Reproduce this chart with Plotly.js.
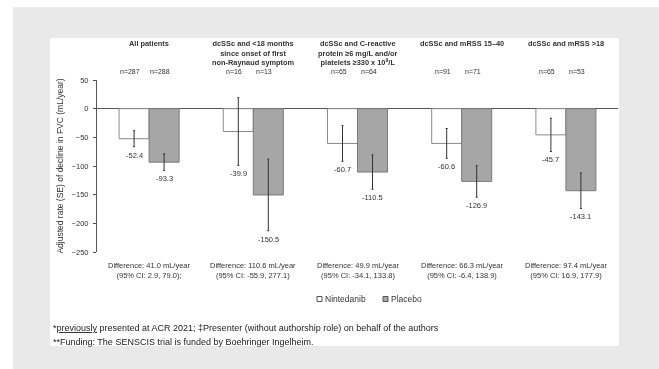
<!DOCTYPE html>
<html>
<head>
<meta charset="utf-8">
<script src="https://cdn.plot.ly/plotly-3.0.1.min.js"></script>
<style>
html,body{margin:0;padding:0;background:#ffffff;}
#chart{width:659px;height:369px;will-change:transform;}
</style>
</head>
<body>
<div id="chart"></div>
<script>
// ---- data ----
const categories = ["All patients", "<18 months", "CRP/platelets", "mRSS 15-40", "mRSS >18"];
const groupTitles = [
  "All patients",
  "dcSSc and <18 months<br>since onset of first<br>non-Raynaud symptom",
  "dcSSc and C-reactive<br>protein ≥6 mg/L and/or<br>platelets ≥330 x 10<sup>9</sup>/L",
  "dcSSc and mRSS 15–40",
  "dcSSc and mRSS >18"
];
const seriesNames = ["Nintedanib", "Placebo"];
const nintedanib = [-52.4, -39.9, -60.7, -60.6, -45.7];
const placebo = [-93.3, -150.5, -110.5, -126.9, -143.1];
const nintedanibSE = [14, 59, 31, 26, 29];
const placeboSE = [14.5, 62.5, 30, 27.5, 31];
const nNintedanib = ["n=287", "n=16", "n=65", "n=91", "n=65"];
const nPlacebo = ["n=288", "n=13", "n=64", "n=71", "n=53"];
const diffText = ["Difference: 41.0 mL/year", "Difference: 110.6 mL/year", "Difference: 49.9 mL/year", "Difference: 66.3 mL/year", "Difference: 97.4 mL/year"];
const ciText = ["(95% CI: 2.9, 79.0);", "(95% CI: -55.9, 277.1)", "(95% CI: -34.1, 133.8)", "(95% CI: -6.4, 138.9)", "(95% CI: 16.9, 177.9)"];
const yTicks = [50, 0, -50, -100, -150, -200, -250];
const footnotes = [
  "*<u>previously</u> presented at ACR 2021; ‡Presenter (without authorship role) on behalf of the authors",
  "**Funding: The SENSCIS trial is funded by Boehringer Ingelheim."
];

// ---- layout geometry (pixels) ----
const W = 659, H = 369;
const L = 97, R = 41, T = 80, B = 117;
const pw = W - L - R, ph = H - T - B;
const px = x => (x - L) / pw;
const py = y => (H - B - y) / ph;

const FONT = "Liberation Sans, Arial, sans-serif";
const TXT = "#333333";
const fills = ["#ffffff", "#a6a6a6"];
const edges = ["#8a8a8a", "#7a7a7a"];

const traces = [
  {
    type: "bar", name: seriesNames[0], x: categories, y: nintedanib,
    marker: {color: fills[0], line: {color: edges[0], width: 1}},
    error_y: {type: "data", array: nintedanibSE, visible: true, color: "#333333", thickness: 1, width: 1},
    hoverinfo: "y"
  },
  {
    type: "bar", name: seriesNames[1], x: categories, y: placebo,
    marker: {color: fills[1], line: {color: edges[1], width: 1}},
    error_y: {type: "data", array: placeboSE, visible: true, color: "#333333", thickness: 1, width: 1},
    hoverinfo: "y"
  }
];

const ann = [];
const halfBar = 15;
const f7 = {family: FONT, size: 7, color: TXT};
const f75 = {family: FONT, size: 7.5, color: TXT};
categories.forEach((c, i) => {
  ann.push({x: c, xref: "x", xanchor: "center", y: py(37), yref: "paper", yanchor: "top", showarrow: false,
    text: "<b>" + groupTitles[i] + "</b>", font: {family: FONT, size: 7.4, color: TXT}});
  ann.push({x: c, xref: "x", xanchor: "center", xshift: -halfBar - 4, y: py(72), yref: "paper", yanchor: "middle",
    showarrow: false, text: nNintedanib[i], font: f7});
  ann.push({x: c, xref: "x", xanchor: "center", xshift: halfBar - 4, y: py(72), yref: "paper", yanchor: "middle",
    showarrow: false, text: nPlacebo[i], font: f7});
  ann.push({x: c, xref: "x", xanchor: "center", xshift: -halfBar, y: nintedanib[i] - nintedanibSE[i], yref: "y",
    yanchor: "top", yshift: -2, showarrow: false, text: nintedanib[i].toFixed(1), font: f75});
  ann.push({x: c, xref: "x", xanchor: "center", xshift: halfBar, y: placebo[i] - placeboSE[i], yref: "y",
    yanchor: "top", yshift: -2, showarrow: false, text: placebo[i].toFixed(1), font: f75});
  ann.push({x: c, xref: "x", xanchor: "center", y: py(270), yref: "paper", yanchor: "middle", showarrow: false,
    text: diffText[i] + "<br>" + ciText[i], font: f75});
});
footnotes.forEach((f, i) => {
  ann.push({x: px(51), xref: "paper", xanchor: "left", y: py(328 + i * 14), yref: "paper", yanchor: "middle",
    showarrow: false, text: f, font: {family: FONT, size: 9, color: "#222222"}});
});

// compact legend (small square + label) matching the reference
const legX = [317, 383];
const shapes = [
  {type: "rect", xref: "paper", yref: "paper", x0: px(13), x1: px(659), y0: py(369), y1: py(7),
    fillcolor: "#e9e9e9", line: {width: 0}, layer: "below"},
  {type: "rect", xref: "paper", yref: "paper", x0: px(50), x1: px(619), y0: py(346), y1: py(38),
    fillcolor: "#ffffff", line: {width: 0}, layer: "below"}
];
seriesNames.forEach((s, i) => {
  shapes.push({type: "rect", xref: "paper", yref: "paper", x0: px(legX[i]), x1: px(legX[i] + 5),
    y0: py(301.5), y1: py(296.5), fillcolor: fills[i], line: {color: "#555555", width: 1}});
  ann.push({x: px(legX[i] + 6), xref: "paper", xanchor: "left", y: py(299), yref: "paper", yanchor: "middle",
    showarrow: false, text: s, font: {family: FONT, size: 8.5, color: TXT}});
});

const layout = {
  width: W, height: H,
  margin: {l: L, r: R, t: T, b: B},
  paper_bgcolor: "#ffffff",
  plot_bgcolor: "rgba(0,0,0,0)",
  font: {family: FONT, size: 7, color: TXT},
  barmode: "group",
  bargap: 0.424,
  bargroupgap: 0,
  showlegend: false,
  xaxis: {type: "category", range: [-0.5, 4.5], showticklabels: false, ticks: "", showline: false,
    showgrid: false, zeroline: false, fixedrange: true},
  yaxis: {range: [-250, 50], tickvals: yTicks, ticks: "outside", ticklen: 3, tickcolor: "#555555",
    ticklabelstandoff: 3,
    showline: true, linecolor: "#555555", linewidth: 1, showgrid: false,
    zeroline: true, zerolinecolor: "#555555", zerolinewidth: 1,
    tickfont: {family: FONT, size: 7.5, color: TXT},
    title: {text: "Adjusted rate (SE) of decline in FVC (mL/year)", standoff: 6,
      font: {family: FONT, size: 8.5, color: TXT}}, fixedrange: true},
  shapes: shapes,
  annotations: ann
};

Plotly.newPlot("chart", traces, layout, {displayModeBar: false, staticPlot: true});
</script>
</body>
</html>
